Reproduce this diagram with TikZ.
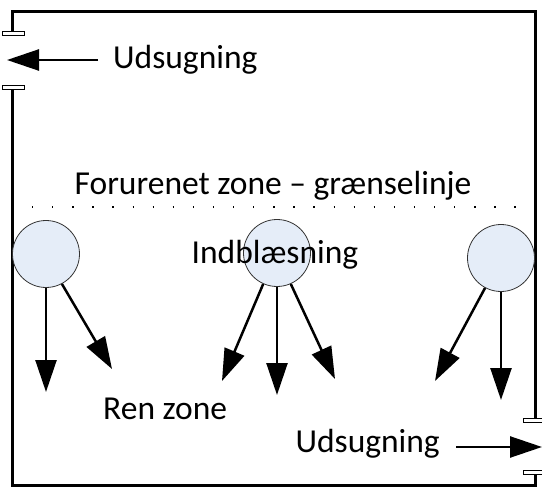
\documentclass[tikz,border=0pt]{standalone}
\usepackage{fontspec}
\setmainfont{Carlito}
\usetikzlibrary{arrows.meta}
\definecolor{fanfill}{RGB}{229,237,248}
\begin{document}
\begin{tikzpicture}[x=1pt,y=-1pt,
  wall/.style={line width=3pt},
  plate/.style={draw=black,fill=white,line width=0.9pt},
  fan/.style={circle,draw=black!80,line width=0.8pt,fill=fanfill,minimum size=67pt,inner sep=0pt},
  flow/.style={line width=2.5pt,-{Triangle[length=32pt,width=21pt]}},
  lbl/.style={font=\fontsize{33.5}{38}\selectfont,inner sep=0pt}]
\useasboundingbox (0,0) rectangle (542,487);
% walls
\draw[wall] (12,33) -- (12,12) -- (535,12) -- (535,420);
\draw[wall] (12,87) -- (12,485) -- (535,485) -- (535,473);
\draw[plate] (2,31) rectangle (24,35);
\draw[plate] (2,85) rectangle (24,89);
\draw[plate] (523,418) rectangle (542,422);
\draw[plate] (523,470) rectangle (542,474);
% exhaust arrows
\coordinate (t1s) at (98,60);
\coordinate (t1e) at (7,60);
\draw[flow] (t1s) -- (t1e);
\node[lbl,anchor=west] (u1) at (113,60) {Udsugning};
\coordinate (t2s) at (456,447);
\coordinate (t2e) at (542,447);
\draw[flow] (t2s) -- (t2e);
\node[lbl,anchor=east] (u2) at (440,444) {Udsugning};
% boundary
\node[lbl] (fz) at (273,186) {Forurenet zone -- grænselinje};
\draw[line width=1.3pt,dash pattern=on 1.3pt off 18.8pt] (32,207) -- (520,207);
% fans
\node[fan] (c1) at (46,254) {};
\node[fan] (c2) at (277,253) {};
\node[fan] (c3) at (501,258) {};
\node[lbl] (ind) at (275,255) {Indblæsning};
% flows
\coordinate (a1) at (46,392);
\coordinate (a2) at (112,369);
\coordinate (b1) at (222,381);
\coordinate (b2) at (277,395);
\coordinate (b3) at (335,379);
\coordinate (d1) at (435,381);
\coordinate (d2) at (501,400);
\draw[flow] (c1.south) -- (a1);
\draw[flow] (c1.-62) -- (a2);
\draw[flow] (c2.-114) -- (b1);
\draw[flow] (c2.south) -- (b2);
\draw[flow] (c2.-66) -- (b3);
\draw[flow] (c3.-118) -- (d1);
\draw[flow] (c3.south) -- (d2);
\node[lbl,anchor=west] (rz) at (103,409) {Ren zone};
\end{tikzpicture}
\end{document}
